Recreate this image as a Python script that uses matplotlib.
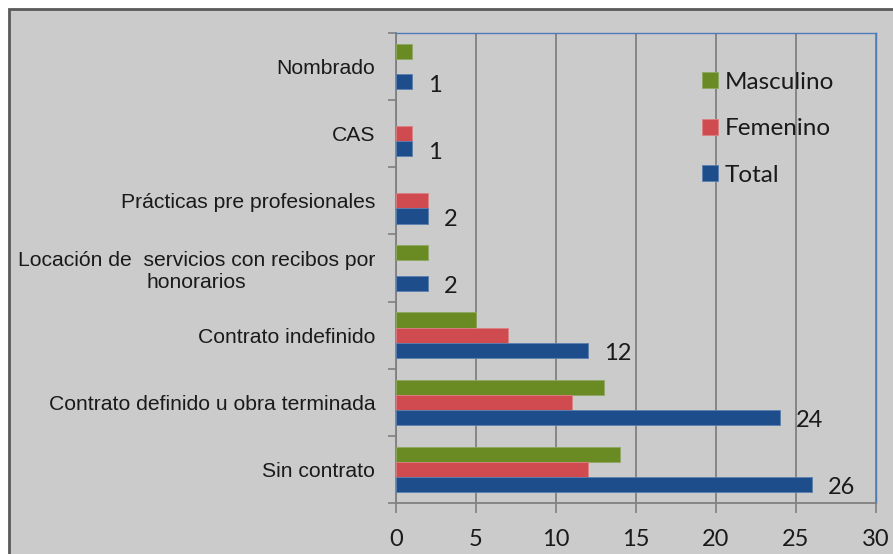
import matplotlib
matplotlib.use("Agg")
import matplotlib.pyplot as plt
from matplotlib.patches import Rectangle, Patch
import numpy as np

categories = ["Sin contrato",
              "Contrato definido u obra terminada",
              "Contrato indefinido",
              "Locación de  servicios con recibos por\nhonorarios",
              "Prácticas pre profesionales",
              "CAS",
              "Nombrado"]
masculino = [14, 13, 5, 2, 0, 0, 1]
femenino = [12, 11, 7, 0, 2, 1, 0]
total = [26, 24, 12, 2, 2, 1, 1]
series_names = ["Masculino", "Femenino", "Total"]
x_ticks = [0, 5, 10, 15, 20, 25, 30]

GREEN = "#6a8a23"
RED = "#cf4b50"
BLUE = "#1d4e8b"
BG = "#cbcbcb"
W, H = 893, 554

fig = plt.figure(figsize=(W / 100, H / 100), dpi=100)
fig.patch.set_facecolor("white")
fig.patches.append(Rectangle((9 / W, -0.05), 1.2, (H - 9) / H + 0.05,
                             transform=fig.transFigure, facecolor=BG,
                             edgecolor="#5a5a5a", linewidth=2, zorder=-10))

ax = fig.add_axes([396 / W, (H - 503) / H, 480 / W, 470 / H])
ax.set_facecolor(BG)

y = np.arange(len(categories))
h = 0.225


def lw(vals):
    return [0.6 if v else 0 for v in vals]


ax.barh(y + h, masculino, height=h, color=GREEN, edgecolor="#8fa860", linewidth=lw(masculino), zorder=3)
ax.barh(y, femenino, height=h, color=RED, edgecolor="#dd8083", linewidth=lw(femenino), zorder=3)
ax.barh(y - h, total, height=h, color=BLUE, edgecolor="#5b7fae", linewidth=lw(total), zorder=3)

for yi, v in zip(y, total):
    ax.text(v + 1.0, yi - h - 0.05, str(v), va="center", ha="left",
            fontsize=17, family="Lato", color="#1a1a1a")

ax.set_xlim(0, 30)
ax.set_ylim(-0.5, len(categories) - 0.5)
ax.set_xticks(x_ticks)
ax.set_xticklabels([str(t) for t in x_ticks], family="Lato", fontsize=17, color="#1a1a1a")
ax.tick_params(axis="x", direction="out", length=7, width=1.2, color="#808080", pad=12)

ax.set_yticks(np.arange(-0.5, len(categories), 1.0))
ax.set_yticklabels([])
ax.set_yticks(y, minor=True)
ax.set_yticklabels(categories, minor=True, family="Liberation Sans", fontsize=15.2,
                   color="#1a1a1a", multialignment="center")
ax.tick_params(axis="y", which="major", direction="out", length=6, width=1.2, color="#808080")
ax.tick_params(axis="y", which="minor", length=0, pad=15)

ax.xaxis.grid(True, color="#808080", linewidth=1.3, zorder=0)
ax.set_axisbelow(True)
for s in ["left", "bottom"]:
    ax.spines[s].set_color("#808080")
    ax.spines[s].set_linewidth(1.3)
for s in ["top", "right"]:
    ax.spines[s].set_color("#4f7ab8")
    ax.spines[s].set_linewidth(1.0)

handles = [Patch(facecolor=c, edgecolor=e, linewidth=0.6) for c, e in
           [(GREEN, "#8fa860"), (RED, "#dd8083"), (BLUE, "#5b7fae")]]
leg = ax.legend(handles, series_names, loc="upper left",
                bbox_to_anchor=((692 - 396) / 480, (503 - 62) / 470),
                frameon=False, handlelength=0.65, handleheight=0.65,
                handletextpad=0.3, labelspacing=1.05, borderaxespad=0,
                prop={"family": "Lato", "size": 17.5})
for t in leg.get_texts():
    t.set_color("#1a1a1a")

fig.savefig("out.png", dpi=100, facecolor=fig.get_facecolor())
